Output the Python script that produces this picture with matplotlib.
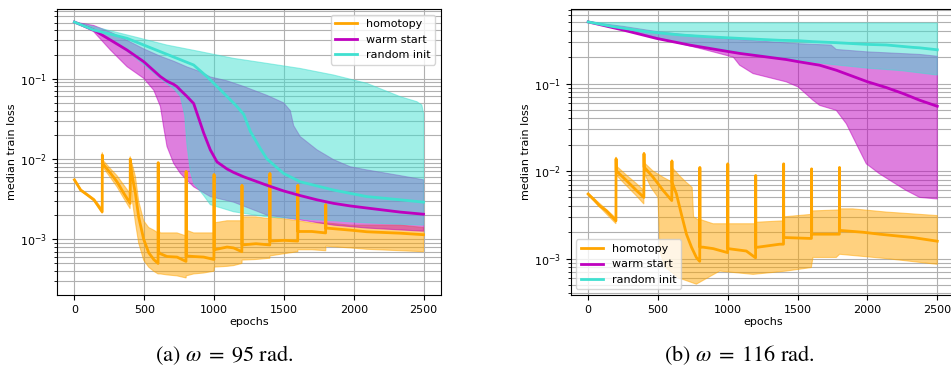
import matplotlib
matplotlib.use("Agg")
import matplotlib.pyplot as plt
import numpy as np

# ---------------- data: panel (a) omega = 95 rad ----------------
a_hom_med_ep = [0, 45, 90, 140, 199, 200, 201, 260, 305, 355, 399, 400, 401, 415, 437, 460, 496, 532, 568, 599,
                600, 601, 616, 663, 735, 799, 800, 801, 854, 926, 999, 1000, 1001, 1093, 1140, 1199, 1200, 1201,
                1300, 1399, 1400, 1401, 1500, 1599, 1600, 1601, 1700, 1799, 1800, 1801, 1975, 2094, 2333, 2500]
a_hom_med = [0.0055, 0.0041, 0.0036, 0.0031, 0.0022, 0.0112, 0.0088, 0.0066, 0.0052, 0.0037, 0.0028, 0.0100,
             0.0088, 0.0060, 0.0037, 0.0019, 0.0010, 0.00068, 0.00056, 0.00050, 0.0090, 0.00070, 0.00066,
             0.00061, 0.00060, 0.00053, 0.0070, 0.00062, 0.00061, 0.00060, 0.00056, 0.0064, 0.00074, 0.00080,
             0.00078, 0.00070, 0.0047, 0.00085, 0.00088, 0.00085, 0.0066, 0.00095, 0.00097, 0.00095, 0.0047,
             0.00125, 0.00125, 0.0012, 0.0027, 0.00138, 0.0013, 0.00124, 0.00119, 0.00114]
a_hom_up = [0.0056, 0.0042, 0.0037, 0.0032, 0.0024, 0.0120, 0.0098, 0.0075, 0.0062, 0.0047, 0.0037, 0.0107,
            0.0098, 0.0085, 0.0060, 0.0030, 0.0017, 0.0014, 0.0013, 0.0012, 0.0090, 0.0013, 0.0012, 0.0012,
            0.0012, 0.0011, 0.0070, 0.0013, 0.0012, 0.0012, 0.0012, 0.0064, 0.0016, 0.0017, 0.0017, 0.0017,
            0.0047, 0.0019, 0.0019, 0.0018, 0.0068, 0.0019, 0.0018, 0.0017, 0.0047, 0.0017, 0.0016, 0.0016,
            0.0028, 0.0016, 0.0015, 0.0015, 0.0015, 0.0014]
a_hom_lo = [0.0054, 0.0040, 0.0035, 0.0030, 0.0021, 0.0100, 0.0080, 0.0058, 0.0045, 0.0032, 0.0024, 0.0085,
            0.0060, 0.0030, 0.0016, 0.0009, 0.00055, 0.00045, 0.00040, 0.00037, 0.00037, 0.00037, 0.00037,
            0.00036, 0.00035, 0.00033, 0.00033, 0.00035, 0.00037, 0.00038, 0.00040, 0.00040, 0.00045, 0.00046,
            0.00047, 0.00050, 0.00050, 0.00055, 0.00056, 0.00058, 0.00058, 0.00062, 0.00066, 0.00070, 0.00070,
            0.00074, 0.00074, 0.00072, 0.00072, 0.00082, 0.00078, 0.00075, 0.00072, 0.00070]

a_warm_med_ep = [0, 138, 258, 377, 496, 616, 663, 711, 735, 759, 806, 854, 878, 926, 973, 1021, 1093, 1140,
                 1212, 1379, 1498, 1617, 1737, 1856, 1975, 2094, 2333, 2500]
a_warm_med = [0.507, 0.404, 0.303, 0.227, 0.163, 0.106, 0.093, 0.085, 0.0795, 0.072, 0.060, 0.049, 0.037,
              0.021, 0.013, 0.0092, 0.0075, 0.0068, 0.0060, 0.0047, 0.0040, 0.0035, 0.0031, 0.0028, 0.0026,
              0.00245, 0.00218, 0.00205]
a_warm_up_ep = [0, 138, 258, 377, 496, 616, 711, 806, 902, 973, 1093, 1212, 1379, 1498, 1546, 1570, 1617, 1737,
                1856, 1975, 2094, 2333, 2500]
a_warm_up = [0.507, 0.46, 0.38, 0.30, 0.235, 0.19, 0.165, 0.14, 0.122, 0.105, 0.094, 0.080, 0.062, 0.050, 0.040,
             0.026, 0.019, 0.013, 0.0098, 0.0080, 0.0073, 0.0062, 0.0055]
a_warm_lo_ep = [0, 138, 258, 377, 496, 568, 616, 639, 663, 711, 759, 854, 973, 1140, 1379, 1617, 1856, 2094, 2500]
a_warm_lo = [0.507, 0.385, 0.227, 0.141, 0.101, 0.072, 0.045, 0.025, 0.0143, 0.0088, 0.0066, 0.0045, 0.0034,
             0.0029, 0.0020, 0.00174, 0.0015, 0.00138, 0.00126]

a_rand_med_ep = [0, 138, 377, 615, 854, 949, 1021, 1093, 1164, 1212, 1260, 1331, 1379, 1498, 1617, 1856, 2094,
                 2333, 2500]
a_rand_med = [0.507, 0.404, 0.318, 0.217, 0.148, 0.106, 0.080, 0.060, 0.045, 0.036, 0.022, 0.0135, 0.0100,
              0.0066, 0.0052, 0.0041, 0.0034, 0.0031, 0.0029]
a_rand_up_ep = [0, 186, 425, 663, 902, 1140, 1379, 1617, 1856, 2094, 2333, 2452, 2488, 2500]
a_rand_up = [0.507, 0.424, 0.334, 0.262, 0.217, 0.179, 0.155, 0.134, 0.111, 0.0875, 0.0597, 0.0517, 0.047, 0.037]
a_rand_lo_ep = [0, 138, 258, 377, 496, 616, 711, 759, 790, 806, 830, 854, 926, 973, 1140, 1379, 1617, 1856,
                2094, 2500]
a_rand_lo = [0.507, 0.40, 0.30, 0.22, 0.15, 0.10, 0.075, 0.060, 0.035, 0.015, 0.007, 0.0050, 0.0035, 0.0027,
             0.0022, 0.0019, 0.0018, 0.0017, 0.0016, 0.0015]

# ---------------- data: panel (b) omega = 116 rad ----------------
b_hom_med_ep = [0, 48, 83, 131, 199, 200, 201, 274, 346, 399, 400, 401, 465, 537, 599, 600, 601, 632, 668, 704,
                740, 775, 799, 800, 801, 823, 895, 999, 1000, 1001, 1133, 1199, 1200, 1201, 1372, 1399, 1400,
                1401, 1586, 1599, 1600, 1601, 1789, 1799, 1800, 1801, 1968, 2087, 2326, 2500]
b_hom_med = [0.00547, 0.0046, 0.0040, 0.00352, 0.0027, 0.0138, 0.0101, 0.0078, 0.0060, 0.0050, 0.0158, 0.0111,
             0.0085, 0.0060, 0.0046, 0.0130, 0.0074, 0.0055, 0.0032, 0.0019, 0.00135, 0.00103, 0.00093, 0.0110,
             0.00135, 0.00135, 0.0013, 0.00117, 0.0121, 0.0013, 0.00122, 0.00102, 0.0089, 0.00134, 0.00146,
             0.00146, 0.0121, 0.00174, 0.0017, 0.0017, 0.0106, 0.0019, 0.0019, 0.0019, 0.0110, 0.0021, 0.0020,
             0.0019, 0.00174, 0.00158]
b_hom_up_ep = [0, 199, 200, 201, 274, 346, 399, 400, 401, 465, 537, 599, 600, 601, 650, 700, 745, 755, 799, 800,
               801, 895, 999, 1000, 1001, 1181, 1199, 1200, 1201, 1399, 1400, 1401, 1599, 1600, 1601, 1799, 1800,
               1801, 1896, 2135, 2500]
b_hom_up = [0.0056, 0.0029, 0.0145, 0.0115, 0.0090, 0.0072, 0.0060, 0.0165, 0.0125, 0.0100, 0.0085, 0.0075,
            0.0135, 0.0110, 0.0090, 0.0075, 0.0065, 0.0030, 0.0027, 0.0110, 0.0028, 0.0025, 0.0025, 0.0121,
            0.0025, 0.0025, 0.0025, 0.0089, 0.0026, 0.0027, 0.0121, 0.0030, 0.0032, 0.0106, 0.0035, 0.0036,
            0.0110, 0.0037, 0.0037, 0.0034, 0.0031]
b_hom_lo_ep = [0, 199, 200, 201, 274, 346, 399, 400, 401, 450, 500, 515, 550, 650, 775, 942, 1181, 1419, 1598,
               1610, 1777, 1801, 2135, 2500]
b_hom_lo = [0.0053, 0.0025, 0.0125, 0.0090, 0.0068, 0.0052, 0.0042, 0.0140, 0.0095, 0.0065, 0.0050, 0.0012,
            0.0008, 0.0006, 0.00051, 0.00072, 0.00066, 0.00072, 0.00079, 0.00103, 0.00103, 0.00112, 0.0010,
            0.00086]

b_warm_med_ep = [0, 250, 489, 728, 942, 1085, 1181, 1419, 1503, 1658, 1777, 1999, 2135, 2254, 2374, 2500]
b_warm_med = [0.506, 0.409, 0.328, 0.275, 0.241, 0.221, 0.211, 0.188, 0.178, 0.162, 0.142, 0.105, 0.090, 0.077,
              0.0645, 0.055]
b_warm_up_ep = [0, 250, 500, 942, 1503, 1740, 1777, 2000, 2374, 2500]
b_warm_up = [0.506, 0.45, 0.39, 0.33, 0.285, 0.275, 0.245, 0.230, 0.215, 0.205]
b_warm_lo_ep = [0, 370, 608, 847, 1040, 1085, 1181, 1419, 1503, 1610, 1658, 1777, 1849, 1920, 1992, 2087, 2183,
                2278, 2374, 2500]
b_warm_lo = [0.506, 0.375, 0.301, 0.241, 0.200, 0.162, 0.130, 0.1045, 0.0916, 0.0645, 0.0563, 0.0494, 0.0347,
             0.0205, 0.0121, 0.0093, 0.00745, 0.0060, 0.0050, 0.0048]

b_rand_med_ep = [0, 179, 417, 656, 895, 1133, 1372, 1503, 1610, 1777, 1999, 2135, 2326, 2374, 2500]
b_rand_med = [0.506, 0.447, 0.392, 0.359, 0.340, 0.325, 0.312, 0.309, 0.301, 0.293, 0.280, 0.276, 0.259, 0.256,
              0.243]
b_rand_up_ep = [0, 100, 2500]
b_rand_up = [0.506, 0.495, 0.49]
b_rand_lo_ep = [0, 250, 500, 750, 1000, 1250, 1500, 1750, 2000, 2250, 2500]
b_rand_lo = [0.506, 0.41, 0.33, 0.275, 0.24, 0.21, 0.185, 0.165, 0.15, 0.14, 0.125]

labels = ["homotopy", "warm start", "random init"]
colors = ["orange", "m", "turquoise"]
captions = [r"(a) $\omega\;=\;95$ rad.", r"(b) $\omega\;=\;116$ rad."]

plt.rcParams["mathtext.fontset"] = "stix"

fig = plt.figure(figsize=(9.51, 3.68), dpi=100)
ax_a = fig.add_axes([0.0599, 0.1984, 0.4038, 0.7772])
ax_b = fig.add_axes([0.6001, 0.1984, 0.4038, 0.7772])

panels = [
    (ax_a,
     [(a_hom_med_ep, a_hom_med, a_hom_med_ep, a_hom_up, a_hom_med_ep, a_hom_lo),
      (a_warm_med_ep, a_warm_med, a_warm_up_ep, a_warm_up, a_warm_lo_ep, a_warm_lo),
      (a_rand_med_ep, a_rand_med, a_rand_up_ep, a_rand_up, a_rand_lo_ep, a_rand_lo)],
     (10 ** -3.694, 10 ** -0.132), "upper right"),
    (ax_b,
     [(b_hom_med_ep, b_hom_med, b_hom_up_ep, b_hom_up, b_hom_lo_ep, b_hom_lo),
      (b_warm_med_ep, b_warm_med, b_warm_up_ep, b_warm_up, b_warm_lo_ep, b_warm_lo),
      (b_rand_med_ep, b_rand_med, b_rand_up_ep, b_rand_up, b_rand_lo_ep, b_rand_lo)],
     (10 ** -3.416, 10 ** -0.148), "lower left"),
]

for ax, series, ylim, legloc in panels:
    ax.set_yscale("log")
    for (mx, my, ux, uy, lx, ly), c in zip(series, colors):
        px = np.concatenate([ux, lx[::-1]])
        py = np.concatenate([uy, ly[::-1]])
        ax.fill(px, py, color=c, alpha=0.5, lw=0.8, zorder=2)
    handles = []
    for (mx, my, ux, uy, lx, ly), c, lab in zip(series, colors, labels):
        h, = ax.plot(mx, my, color=c, lw=2.0, label=lab, zorder=3)
        handles.append(h)
    ax.set_xlim(-125, 2625)
    ax.set_ylim(*ylim)
    ax.set_xticks([0, 500, 1000, 1500, 2000, 2500])
    ax.grid(True, which="both", color="#b0b0b0", lw=0.8, zorder=0)
    ax.set_axisbelow(True)
    ax.tick_params(labelsize=8)
    ax.set_xlabel("epochs", fontsize=8, labelpad=2)
    ax.set_ylabel("median train loss", fontsize=8, labelpad=2)
    ax.legend(handles=handles, loc=legloc, fontsize=8, framealpha=0.8)

fig.text(224 / 951, 1 - 355 / 368, captions[0], ha="center", va="center", fontsize=16,
         family="STIXGeneral")
fig.text(739 / 951, 1 - 355 / 368, captions[1], ha="center", va="center", fontsize=16,
         family="STIXGeneral")

fig.savefig("out.png", dpi=100)
